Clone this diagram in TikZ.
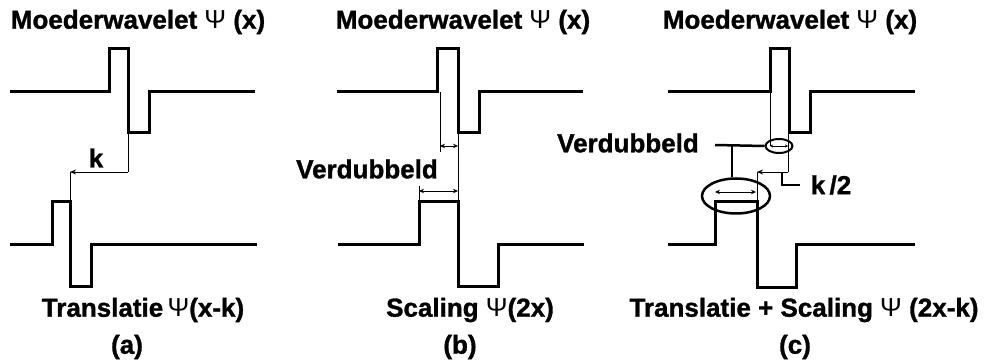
\documentclass[tikz,border=0pt]{standalone}
\usepackage{fontspec}
\setmainfont{Liberation Sans}[BoldFeatures={FakeBold=1.2}]
\usetikzlibrary{arrows.meta,shapes.geometric}
\newcommand\psy{{\mdseries Ψ}}
\begin{document}
\begin{tikzpicture}[x=1pt,y=-1pt,
  wave/.style={line width=3pt, line join=miter},
  thinline/.style={line width=0.9pt},
  lead/.style={line width=2.5pt},
  tipl/.style={-{Stealth[length=6pt,width=5pt]}},
  dtip/.style={{Stealth[length=5pt,width=4.5pt]}-{Stealth[length=5pt,width=4.5pt]}},
  stip/.style={{Stealth[length=3pt,width=3pt]}-{Stealth[length=3pt,width=3pt]}},
  lbl/.style={font=\fontsize{26}{29}\selectfont\bfseries, inner sep=0pt},
  ring/.style={draw, ellipse, inner sep=0pt, line width=2.5pt},
  ]
\useasboundingbox (0,0) rectangle (987,363);

% ---------- panel (a) ----------
\node[lbl] (ta) at (138,22) {Moederwavelet \psy\ (x)};
\draw[wave] (10,92) -- (109,92) -- (109,49) -- (128,49) -- (128,133) -- (149,133) -- (149,92) -- (255,92);
\draw[wave] (10,245) -- (52,245) -- (52,202) -- (70,202) -- (70,286) -- (91,286) -- (91,245) -- (257,245);
\coordinate (ka) at (128,133);
\coordinate (kb) at (128,172);
\coordinate (kc) at (70,172);
\coordinate (kd) at (70,202);
\draw[thinline] (ka) -- (kb);
\draw[thinline,tipl] (kb) -- (kc);
\draw[thinline] (kc) -- (kd);
\node[lbl] (k) at (96,158) {k};
\node[lbl] (ba) at (143,310) {Translatie\,\psy(x-k)};
\node[lbl] (ca) at (127,347) {(a)};

% ---------- panel (b) ----------
\node[lbl] (tb) at (463,22) {Moederwavelet \psy\ (x)};
\draw[wave] (337,92) -- (437,92) -- (437,49) -- (458,49) -- (458,133) -- (479,133) -- (479,92) -- (583,92);
\draw[wave] (338,245) -- (419,245) -- (419,202) -- (458,202) -- (458,286) -- (498,286) -- (498,245) -- (584,245);
\coordinate (b1) at (440,92);
\coordinate (b2) at (440,152);
\coordinate (b3) at (458,133);
\coordinate (b4) at (458,202);
\coordinate (b5) at (419,186);
\coordinate (b6) at (419,202);
\draw[thinline] (b1) -- (b2);
\draw[thinline] (b3) -- (b4);
\draw[thinline] (b5) -- (b6);
\draw[thinline,dtip] (440,146) -- (458,146);
\draw[thinline,dtip] (419,191) -- (458,191);
\node[lbl] (vb) at (367,169) {Verdubbeld};
\node[lbl] (bb) at (470,310) {Scaling \psy(2x)};
\node[lbl] (cb) at (460,347) {(b)};

% ---------- panel (c) ----------
\node[lbl] (tc) at (790,22) {Moederwavelet \psy\ (x)};
\draw[wave] (668,92) -- (770,92) -- (770,49) -- (789,49) -- (789,133) -- (810,133) -- (810,92) -- (915,92);
\draw[wave] (668,245) -- (715,245) -- (715,202) -- (757,202) -- (757,287) -- (796,287) -- (796,245) -- (915,245);
\node[ring, line width=2pt, minimum width=27pt, minimum height=14pt] (se) at (779,146) {};
\node[ring, minimum width=68pt, minimum height=35pt] (be) at (736,196) {};
\coordinate (c1) at (770,92);
\coordinate (c2) at (770,146);
\coordinate (c3) at (788,133);
\coordinate (c4) at (788,172);
\coordinate (c5) at (757,172);
\coordinate (c6) at (757,202);
\draw[thinline] (c1) -- (c2);
\draw[thinline] (c3) -- (c4);
\draw[thinline,tipl] (c4) -- (c5);
\draw[thinline] (c5) -- (c6);
\draw[thinline,stip] (770,146) -- (788,146);
\draw[thinline,dtip] (715,192) -- (756,192);
\node[lbl] (vc) at (628,143) {Verdubbeld};
\coordinate (va) at (715,145);
\coordinate (vj) at (732,145);
\draw[lead] (va) -- (se.west);
\draw[lead] (vj) -- (vj |- be.north);
\node[lbl] (k2) at (831,185) {k\,/2};
\coordinate (ka2) at (782,173);
\draw[lead] (ka2) |- (k2.west -| 800,0);
\node[lbl] (bc) at (804,310) {Translatie + Scaling \psy\ (2x-k)};
\node[lbl] (cc) at (795,347) {(c)};
\end{tikzpicture}
\end{document}
